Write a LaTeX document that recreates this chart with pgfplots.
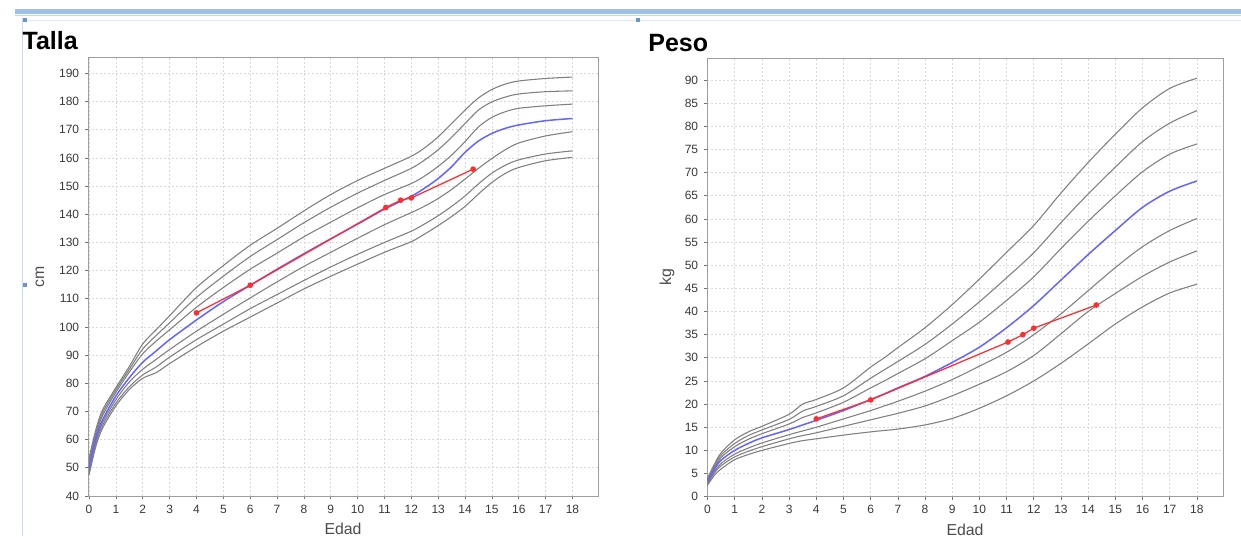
\documentclass[border=0pt]{standalone}
\usepackage{fontspec}
\setmainfont{Liberation Sans}
\usepackage{pgfplots}
\usepackage{pgfplotstable}
\pgfplotsset{compat=1.18}

\definecolor{curvegray}{RGB}{128,128,128}
\definecolor{medblue}{RGB}{100,100,255}
\definecolor{ptred}{RGB}{255,45,45}
\definecolor{framebl}{RGB}{120,165,220}

% Talla: x, c1..c3 (upper), med, c5..c7 (lower)
\pgfplotstableread{
x     c1     c2     c3     med    c5     c6     c7
0     53.5   52.5   51.5   50.0   49.5   48.5   47.5
0.25  63.5   62.5   61.5   60.5   59.5   58.5   57.5
0.5   70.5   69.5   68.5   67.0   66.0   65.0   64.0
1     78.5   77.7   76.8   75.5   74.2   73.0   72.0
1.5   86.0   85.0   84.0   82.0   80.5   78.8   77.8
2     94.0   92.2   90.5   87.5   85.0   83.0   81.8
2.5   99.0   97.0   95.0   91.5   88.5   85.8   83.8
3     104.0  101.5  99.0   95.5   92.0   89.3   87.0
4     114.0  110.5  107.0  102.5  98.5   95.5   93.0
5     121.8  118.0  114.0  109.0  104.5  101.0  98.5
6     129.0  125.0  120.5  114.8  110.3  106.5  103.5
7     135.0  131.0  126.2  120.5  116.0  111.5  108.5
8     141.2  137.0  132.0  126.0  121.5  116.5  113.5
9     147.0  142.5  137.2  131.3  126.5  121.3  118.0
10    152.0  147.5  142.3  136.5  131.5  125.8  122.3
11    156.3  152.0  147.0  141.8  136.3  130.0  126.5
12    160.6  156.3  150.9  146.4  140.6  134.0  130.3
12.5  163.6  159.3  153.6  149.3  142.9  136.6  133.0
13    167.5  162.9  157.0  152.7  145.6  139.5  136.0
13.5  172.2  167.3  161.0  156.9  148.8  142.8  139.2
14    177.0  172.2  165.8  162.0  152.5  146.5  142.8
14.5  181.3  177.0  171.0  166.0  156.3  150.8  147.2
15    184.3  179.9  174.4  168.7  159.8  154.6  151.3
15.5  186.2  181.6  176.4  170.5  162.9  157.4  154.5
16    187.3  182.7  177.6  171.7  165.3  159.3  156.6
17    188.2  183.5  178.5  173.2  167.8  161.4  159.0
18    188.7  183.8  179.1  174.0  169.3  162.5  160.2
}\tallatable

\pgfplotstableread{
x     y
4     105.0
6     114.8
11.05 142.4
11.6  145.0
12    145.8
14.3  156.0
}\tallapts

% Peso
\pgfplotstableread{
x     c1     c2     c3     med    c5     c6     c7
0     4.0    3.8    3.55   3.3    3.0    2.8    2.5
0.25  7.0    6.6    6.2    5.9    5.4    5.1    4.6
0.5   9.5    9.0    8.5    7.9    7.2    6.7    6.0
1     12.3   11.5   10.8   10.0   9.2    8.6    8.0
1.5   14.0   13.2   12.4   11.5   10.5   9.8    9.1
2     15.2   14.4   13.6   12.7   11.6   10.8   10.0
3     17.8   16.7   15.7   14.5   13.4   12.5   11.5
3.5   20.0   18.5   17.1   15.5   14.2   13.2   12.1
4     21.0   19.5   18.1   16.5   15.0   13.8   12.5
5     23.5   21.8   20.4   18.6   16.8   15.2   13.3
6     28.0   25.6   23.5   21.0   18.6   16.6   14.0
6.5   30.0   27.4   25.0   22.2   19.6   17.3   14.3
7     32.2   29.2   26.6   23.5   20.6   18.0   14.6
8     36.5   32.9   29.8   26.0   22.8   19.6   15.5
9     41.5   37.3   33.7   29.0   25.3   21.8   16.9
10    47.0   42.1   37.7   32.3   28.2   24.3   19.1
11    52.8   47.3   42.4   36.5   31.2   27.0   21.8
12    58.6   52.7   47.5   41.3   35.0   30.5   25.0
13    65.6   59.2   53.6   46.8   39.5   35.2   28.8
14    72.2   65.4   59.5   52.3   44.5   40.0   33.0
15    78.3   71.2   65.0   57.5   49.5   43.9   37.3
16    84.0   76.7   70.2   62.5   54.0   47.6   41.0
17    88.2   80.7   74.0   66.0   57.5   50.7   44.0
18    90.4   83.4   76.2   68.2   60.1   53.1   45.9
}\pesotable

\pgfplotstableread{
x     y
4     16.8
6     20.9
11.05 33.4
11.6  35.0
12    36.4
14.3  41.4
}\pesopts

\pgfplotsset{
  chart/.style={
    scale only axis,
    axis line style={draw=black!38, line width=0.5pt},
    grid=major,
    major grid style={draw=black!15, dash pattern=on 1.2pt off 1.2pt, line width=0.4pt},
    tick style={draw=black!55, line width=0.4pt},
    tick align=outside, major tick length=1.8pt,
    xtick pos=bottom, ytick pos=left,
    xtick={0,...,18},
    /pgf/number format/assume math mode=true,
    ticklabel style={font=\fontsize{7.2}{8}\selectfont, text=black!78},
    xlabel=Edad,
    xlabel style={font=\fontsize{9.5}{10}\selectfont, text=black!70, at={(axis description cs:0.5,-0.075)}, anchor=center},
    ylabel style={font=\fontsize{9.5}{10}\selectfont, text=black!70, anchor=center},
    every axis plot/.append style={smooth, tension=0.5},
  },
  pct/.style={draw=curvegray, line width=0.65pt, no markers},
}

\begin{document}
\begin{tikzpicture}
\path[use as bounding box] (0,0) rectangle (744.6pt,321.6pt);

% window decoration
\fill[framebl!70] (9pt,313.2pt) rectangle (744.6pt,316.2pt);
\draw[framebl!45, line width=0.5pt] (9pt,312.6pt) -- (744.6pt,312.6pt);
\draw[framebl!40, line width=0.6pt] (13.2pt,0pt) -- (13.2pt,310.8pt);
\draw[framebl!25, line width=0.4pt] (15pt,309.6pt) -- (744.6pt,309.6pt);
\fill[framebl!90!black] (14pt,308.6pt) rectangle (16pt,310.6pt);
\fill[framebl!90!black] (381.8pt,308.6pt) rectangle (383.8pt,310.6pt);
\fill[framebl!90!black] (14pt,149.6pt) rectangle (16pt,151.6pt);

\node[anchor=base west, font=\bfseries\fontsize{15}{16}\selectfont, inner sep=0pt] at (13.4pt,291.6pt) {Talla};
\node[anchor=base west, font=\bfseries\fontsize{15}{16}\selectfont, inner sep=0pt] at (388.8pt,290.4pt) {Peso};

% ---------- Talla ----------
\begin{axis}[chart,
  at={(52.8pt,24pt)}, anchor=south west,
  width=306pt, height=263.2pt,
  xmin=-0.04, xmax=18.95, ymin=40, ymax=195.7,
  ytick={40,50,...,190},
  ylabel=cm,
  ylabel style={at={(axis description cs:-0.094,0.5)}},
]
\addplot[pct] table[x=x,y=c1] {\tallatable};
\addplot[pct] table[x=x,y=c2] {\tallatable};
\addplot[pct] table[x=x,y=c3] {\tallatable};
\addplot[pct] table[x=x,y=c5] {\tallatable};
\addplot[pct] table[x=x,y=c6] {\tallatable};
\addplot[pct] table[x=x,y=c7] {\tallatable};
\addplot[draw=medblue, line width=0.9pt, no markers] table[x=x,y=med] {\tallatable};
\addplot[draw=ptred, line width=0.75pt, sharp plot, mark=*, mark size=1.3pt, mark options={fill=ptred, draw=ptred}] table[x=x,y=y] {\tallapts};
\end{axis}

% ---------- Peso ----------
\begin{axis}[chart,
  at={(424.2pt,23.6pt)}, anchor=south west,
  width=309.6pt, height=263pt,
  xmin=-0.02, xmax=18.96, ymin=0, ymax=94.7,
  ytick={0,5,...,90},
  ylabel=kg,
  ylabel style={at={(axis description cs:-0.0775,0.5)}},
]
\addplot[pct] table[x=x,y=c1] {\pesotable};
\addplot[pct] table[x=x,y=c2] {\pesotable};
\addplot[pct] table[x=x,y=c3] {\pesotable};
\addplot[pct] table[x=x,y=c5] {\pesotable};
\addplot[pct] table[x=x,y=c6] {\pesotable};
\addplot[pct] table[x=x,y=c7] {\pesotable};
\addplot[draw=medblue, line width=0.9pt, no markers] table[x=x,y=med] {\pesotable};
\addplot[draw=ptred, line width=0.75pt, sharp plot, mark=*, mark size=1.3pt, mark options={fill=ptred, draw=ptred}] table[x=x,y=y] {\pesopts};
\end{axis}
\end{tikzpicture}
\end{document}
